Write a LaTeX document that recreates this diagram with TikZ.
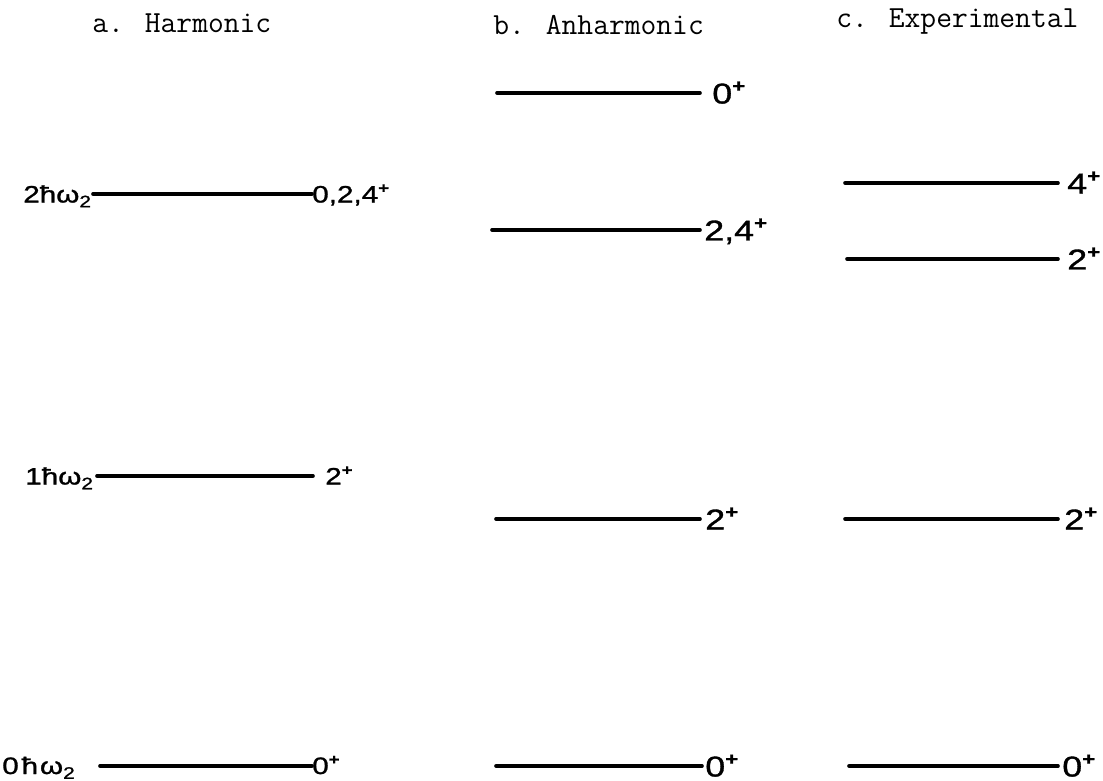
\documentclass[tikz,border=0pt]{standalone}
\usepackage{fontspec}
\newfontfamily\lblfont[FakeStretch=1.25,FakeBold=1.2]{Liberation Sans}
\newcommand\pl{\raisebox{0.40em}{\scalebox{0.62}{\textbf{+}}}}
\newcommand\sbt{\raisebox{-0.2em}{\scalebox{0.7}{2}}}
\tikzset{
  level/.style={line width=2.7pt, line cap=round},
  ttl/.style={anchor=base west, inner sep=0pt, font=\fontsize{23}{27}\selectfont\ttfamily\addfontfeatures{FakeBold=3}},
  lbla/.style={anchor=base west, inner sep=0pt, font=\fontsize{17.8}{20}\selectfont\lblfont},
  lblb/.style={anchor=base west, inner sep=0pt, font=\fontsize{21.5}{24}\selectfont\lblfont},
}
\begin{document}
\begin{tikzpicture}[x=0.75pt,y=-0.75pt]
\useasboundingbox (0,0) rectangle (1103,781);
% titles
\node[ttl] (ta) at (92,33) {a. Harmonic};
\node[ttl] (tb) at (493,35) {b. Anharmonic};
\node[ttl] (tc) at (836,28) {c. Experimental};
% a. Harmonic
\node[lbla] (aL2) at (23,202.5) {2ħω\sbt};
\node[lbla] (aR2) at (312,202.5) {0,2,4\pl};
\coordinate (a2s) at (93,194); \coordinate (a2e) at (312,194);
\draw[level] (a2s) -- (a2e);
\node[lbla] (aL1) at (25,484.5) {1ħω\sbt};
\node[lbla] (aR1) at (325,484.5) {2\pl};
\coordinate (a1s) at (97,476); \coordinate (a1e) at (313,476);
\draw[level] (a1s) -- (a1e);
\node[lbla] (aL0) at (2,774) {0\hspace{0.12em}ħ\hspace{0.08em}ω\sbt};
\node[lbla] (aR0) at (312,774) {0\pl};
\coordinate (a0s) at (100,766); \coordinate (a0e) at (312,766);
\draw[level] (a0s) -- (a0e);
% b. Anharmonic
\coordinate (b3s) at (497,93); \coordinate (b3e) at (700,93);
\draw[level] (b3s) -- (b3e);
\node[lblb] (bR3) at (712,103.5) {0\pl};
\coordinate (b2s) at (492,230); \coordinate (b2e) at (700,230);
\draw[level] (b2s) -- (b2e);
\node[lblb] (bR2) at (704,240.5) {2,4\pl};
\coordinate (b1s) at (496,519); \coordinate (b1e) at (700,519);
\draw[level] (b1s) -- (b1e);
\node[lblb] (bR1) at (705,529.5) {2\pl};
\coordinate (b0s) at (496,766); \coordinate (b0e) at (702,766);
\draw[level] (b0s) -- (b0e);
\node[lblb] (bR0) at (705,776.5) {0\pl};
% c. Experimental
\coordinate (c3s) at (845,183); \coordinate (c3e) at (1058,183);
\draw[level] (c3s) -- (c3e);
\node[lblb] (cR3) at (1067,193.5) {4\pl};
\coordinate (c2s) at (847,259); \coordinate (c2e) at (1058,259);
\draw[level] (c2s) -- (c2e);
\node[lblb] (cR2) at (1067,269.5) {2\pl};
\coordinate (c1s) at (845,519); \coordinate (c1e) at (1058,519);
\draw[level] (c1s) -- (c1e);
\node[lblb] (cR1) at (1064,529.5) {2\pl};
\coordinate (c0s) at (849,766); \coordinate (c0e) at (1058,766);
\draw[level] (c0s) -- (c0e);
\node[lblb] (cR0) at (1062,776.5) {0\pl};
\end{tikzpicture}
\end{document}
